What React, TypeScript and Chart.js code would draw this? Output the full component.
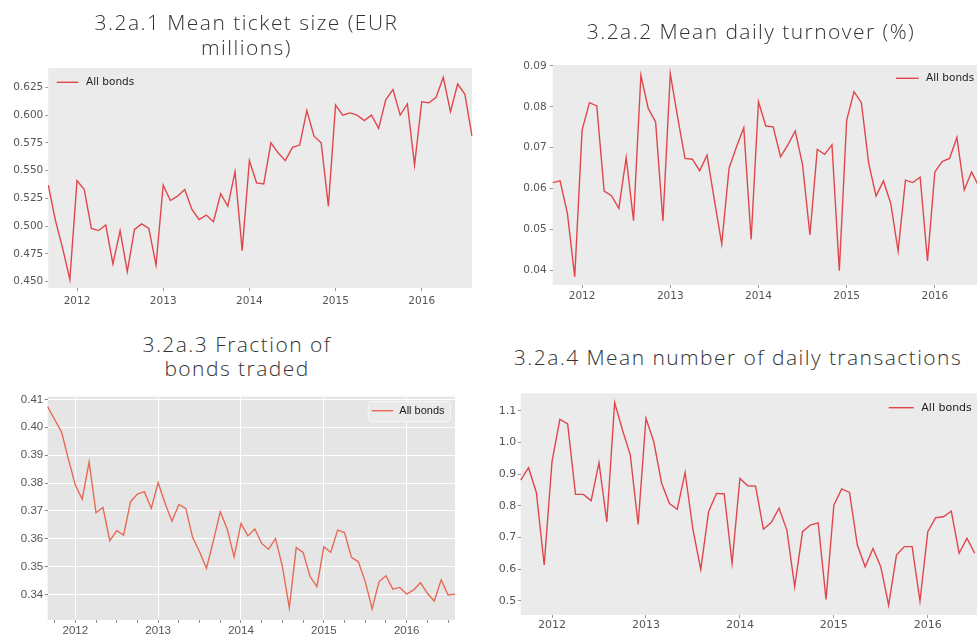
import React, { useEffect, useRef } from 'react';
import { Chart, registerables } from 'chart.js';

Chart.register(...registerables);

// ---------- categories ----------
const FIRST_YEAR = 2011;
const FIRST_MONTH = 9; // September 2011
const N_MONTHS = 60;   // Sep 2011 .. Aug 2016
const months: string[] = [];
for (let i = 0; i < N_MONTHS; i++) {
  const m = FIRST_MONTH - 1 + i;
  months.push(`${FIRST_YEAR + Math.floor(m / 12)}-${String((m % 12) + 1).padStart(2, '0')}`);
}

// ---------- series values ----------
const ticketSize: number[] = [
  0.537, 0.505, 0.480, 0.452, 0.541, 0.533, 0.498, 0.496, 0.501, 0.466,
  0.496, 0.459, 0.497, 0.502, 0.498, 0.465, 0.537, 0.523, 0.527, 0.533,
  0.515, 0.506, 0.510, 0.504, 0.529, 0.518, 0.549, 0.478, 0.559, 0.539,
  0.538, 0.575, 0.566, 0.559, 0.571, 0.573, 0.604, 0.581, 0.575, 0.518,
  0.609, 0.600, 0.602, 0.600, 0.595, 0.600, 0.588, 0.614, 0.623, 0.600,
  0.610, 0.555, 0.612, 0.611, 0.616, 0.634, 0.603, 0.628, 0.619, 0.581,
];

const dailyTurnover: number[] = [
  0.0615, 0.0619, 0.0540, 0.0385, 0.0743, 0.0810, 0.0802, 0.0594, 0.0583, 0.0552,
  0.0676, 0.0522, 0.0877, 0.0796, 0.0763, 0.0521, 0.0881, 0.0775, 0.0674, 0.0672,
  0.0644, 0.0682, 0.0572, 0.0465, 0.0650, 0.0702, 0.0749, 0.0476, 0.0812, 0.0753,
  0.0751, 0.0678, 0.0707, 0.0741, 0.0658, 0.0487, 0.0696, 0.0684, 0.0707, 0.0400,
  0.0767, 0.0837, 0.0810, 0.0662, 0.0582, 0.0619, 0.0564, 0.0448, 0.0621, 0.0615,
  0.0628, 0.0424, 0.0641, 0.0666, 0.0674, 0.0725, 0.0597, 0.0641, 0.0605,
];

const fractionTraded: number[] = [
  0.4074, 0.4028, 0.3984, 0.3886, 0.3793, 0.3742, 0.3876, 0.3693, 0.3712, 0.3593,
  0.3629, 0.3613, 0.3733, 0.3760, 0.3769, 0.3709, 0.3801, 0.3727, 0.3663, 0.3723,
  0.3709, 0.3604, 0.3553, 0.3494, 0.3592, 0.3697, 0.3635, 0.3535, 0.3655, 0.3610,
  0.3635, 0.3583, 0.3562, 0.3601, 0.3500, 0.3352, 0.3568, 0.3551, 0.3464, 0.3428,
  0.3571, 0.3551, 0.3631, 0.3622, 0.3533, 0.3517, 0.3446, 0.3348, 0.3446, 0.3467,
  0.3419, 0.3425, 0.3401, 0.3416, 0.3442, 0.3404, 0.3376, 0.3452, 0.3398, 0.3401,
];

const dailyTransactions: number[] = [
  0.881, 0.920, 0.842, 0.613, 0.939, 1.073, 1.058, 0.836, 0.836, 0.816,
  0.936, 0.749, 1.126, 1.039, 0.960, 0.741, 1.076, 1.002, 0.871, 0.807,
  0.789, 0.905, 0.725, 0.599, 0.781, 0.839, 0.837, 0.618, 0.886, 0.863,
  0.862, 0.726, 0.747, 0.792, 0.723, 0.544, 0.718, 0.739, 0.746, 0.504,
  0.802, 0.853, 0.842, 0.676, 0.607, 0.665, 0.607, 0.486, 0.644, 0.671,
  0.671, 0.499, 0.718, 0.762, 0.765, 0.783, 0.650, 0.697, 0.650,
];

// ---------- tick labels ----------
const ticksP1: number[] = [0.45, 0.475, 0.5, 0.525, 0.55, 0.575, 0.6, 0.625];
const ticksP2: number[] = [0.04, 0.05, 0.06, 0.07, 0.08, 0.09];
const ticksP3: number[] = [0.34, 0.35, 0.36, 0.37, 0.38, 0.39, 0.40, 0.41];
const ticksP4: number[] = [0.5, 0.6, 0.7, 0.8, 0.9, 1.0, 1.1];

const seriesName = 'All bonds';

type Legend = { x1: number; x2: number; tx: number; y: number; box?: [number, number, number, number]; font: string };
type Spec = {
  key: string;
  left: number; top: number; width: number; height: number;
  values: number[];
  yMin: number; yMax: number; yTicks: number[]; yDec: number;
  color: string; bg: string; grid: boolean;
  font: string; fontSize: number;
  yW: number; xH: number; padTop: number; padRight: number;
  yPad: number; xPad: number;
  legend: Legend;
};

const specs: Spec[] = [
  {
    key: 'p1', left: 0, top: 55, width: 480, height: 260,
    values: ticketSize, yMin: 0.4443, yMax: 0.6424, yTicks: ticksP1, yDec: 3,
    color: '#E0474C', bg: '#EBEBEB', grid: false, font: 'DejaVu Sans', fontSize: 10.5,
    yW: 48.3, xH: 27, padTop: 13, padRight: 8, yPad: 2, xPad: 3.5,
    legend: { x1: 56.7, x2: 78.3, tx: 86, y: 27.3, font: '10.5px "DejaVu Sans"' },
  },
  {
    key: 'p2', left: 505, top: 50, width: 500, height: 260,
    values: dailyTurnover, yMin: 0.0365, yMax: 0.0902, yTicks: ticksP2, yDec: 2,
    color: '#E0474C', bg: '#EBEBEB', grid: false, font: 'DejaVu Sans', fontSize: 10.5,
    yW: 47.7, xH: 25, padTop: 15, padRight: 18.7, yPad: 3, xPad: 2,
    legend: { x1: 391, x2: 413.7, tx: 421, y: 28.3, font: '10.5px "DejaVu Sans"' },
  },
  {
    key: 'p3', left: 0, top: 385, width: 465, height: 250,
    values: fractionTraded, yMin: 0.3308, yMax: 0.411, yTicks: ticksP3, yDec: 2,
    color: '#E66A55', bg: '#E5E5E5', grid: true, font: 'Liberation Sans', fontSize: 11.5,
    yW: 47.7, xH: 15, padTop: 11.7, padRight: 10, yPad: 1.5, xPad: 0.5,
    legend: { x1: 371.7, x2: 393.3, tx: 399.3, y: 25.7, box: [367.7, 16, 82.3, 20], font: '11px "Liberation Sans"' },
  },
  {
    key: 'p4', left: 488, top: 385, width: 510, height: 250,
    values: dailyTransactions, yMin: 0.455, yMax: 1.155, yTicks: ticksP4, yDec: 1,
    color: '#E0474C', bg: '#EBEBEB', grid: false, font: 'DejaVu Sans', fontSize: 11,
    yW: 32.7, xH: 20, padTop: 8.3, padRight: 15.4, yPad: 1.5, xPad: 1,
    legend: { x1: 400.7, x2: 425.7, tx: 433.3, y: 22.7, font: '11px "DejaVu Sans"' },
  },
];

const titles = [
  { key: 't1', lines: ['3.2a.1 Mean ticket size (EUR', 'millions)'], cx: 246.5, cy: 22, lh: 25 },
  { key: 't2', lines: ['3.2a.2 Mean daily turnover (%)'], cx: 751, cy: 31, lh: 25 },
  { key: 't3', lines: ['3.2a.3 Fraction of', 'bonds traded'], cx: 237, cy: 344, lh: 24 },
  { key: 't4', lines: ['3.2a.4 Mean number of daily transactions'], cx: 738, cy: 357, lh: 25 },
];

function Panel({ spec }: { spec: Spec }) {
  const ref = useRef<HTMLCanvasElement | null>(null);
  useEffect(() => {
    const canvas = ref.current;
    if (!canvas) return;
    const isMajor = (i: number) => months[i].endsWith('-01');
    const keepMonths = spec.grid ? ['01', '04', '07', '10'] : ['01'];

    const bgPlugin = {
      id: 'bg_' + spec.key,
      beforeDraw(chart: any) {
        const { ctx, chartArea } = chart;
        ctx.save();
        ctx.fillStyle = spec.bg;
        ctx.fillRect(chartArea.left, chartArea.top, chartArea.right - chartArea.left, chartArea.bottom - chartArea.top);
        ctx.restore();
      },
      afterDraw(chart: any) {
        const { ctx } = chart;
        const lg = spec.legend;
        ctx.save();
        if (lg.box) {
          const [bx, by, bw, bh] = lg.box;
          ctx.fillStyle = '#EAEAEA';
          ctx.strokeStyle = '#F6F6F6';
          ctx.lineWidth = 1;
          ctx.beginPath();
          (ctx as any).roundRect(bx + 0.5, by + 0.5, bw, bh, 3);
          ctx.fill();
          ctx.stroke();
        }
        ctx.strokeStyle = spec.color;
        ctx.lineWidth = 1.4;
        ctx.beginPath();
        ctx.moveTo(lg.x1, lg.y);
        ctx.lineTo(lg.x2, lg.y);
        ctx.stroke();
        ctx.fillStyle = '#222';
        ctx.font = lg.font;
        ctx.textBaseline = 'middle';
        ctx.textAlign = 'left';
        ctx.fillText(seriesName, lg.tx, lg.y);
        ctx.restore();
      },
    };

    const chart = new Chart(canvas, {
      type: 'line',
      data: {
        labels: months,
        datasets: [
          {
            label: seriesName,
            data: spec.values,
            borderColor: spec.color,
            borderWidth: 1.4,
            pointRadius: 0,
            tension: 0,
            fill: false,
          },
        ],
      },
      options: {
        animation: false,
        responsive: false,
        devicePixelRatio: 1,
        layout: { padding: { left: 0, top: spec.padTop, right: spec.padRight, bottom: 0 } },
        plugins: { legend: { display: false }, tooltip: { enabled: false }, title: { display: false } },
        scales: {
          x: {
            type: 'category',
            offset: false,
            border: { display: false },
            grid: spec.grid
              ? {
                  display: true,
                  drawOnChartArea: true,
                  color: (c: any) => (c.tick && isMajor(c.tick.value) ? '#FFFFFF' : 'rgba(0,0,0,0)'),
                  lineWidth: 1,
                  drawTicks: true,
                  tickLength: 3,
                  tickColor: '#8A8A8A',
                }
              : { display: true, drawOnChartArea: false, drawTicks: true, tickLength: 3, tickColor: '#9A9A9A' },
            afterBuildTicks: (axis: any) => {
              axis.ticks = months
                .map((m, i) => ({ value: i, m }))
                .filter((t) => keepMonths.includes(t.m.slice(5)))
                .map((t) => ({ value: t.value }));
            },
            afterFit: (axis: any) => {
              axis.height = spec.xH;
            },
            ticks: {
              autoSkip: false,
              maxRotation: 0,
              minRotation: 0,
              padding: spec.xPad,
              color: '#555',
              font: { family: spec.font, size: spec.fontSize },
              callback: (value: any) => {
                const m = months[Number(value)];
                return m && m.endsWith('-01') ? m.slice(0, 4) : '';
              },
            },
          },
          y: {
            type: 'linear',
            min: spec.yMin,
            max: spec.yMax,
            border: { display: false },
            grid: spec.grid
              ? { display: true, drawOnChartArea: true, color: '#FFFFFF', lineWidth: 1, drawTicks: true, tickLength: 3, tickColor: '#8A8A8A' }
              : { display: true, drawOnChartArea: false, drawTicks: true, tickLength: 3, tickColor: '#9A9A9A' },
            afterBuildTicks: (axis: any) => {
              axis.ticks = spec.yTicks.map((v) => ({ value: v }));
            },
            afterFit: (axis: any) => {
              axis.width = spec.yW;
            },
            ticks: {
              padding: spec.yPad,
              color: '#555',
              font: { family: spec.font, size: spec.fontSize },
              callback: (value: any) => Number(value).toFixed(spec.yDec),
            },
          },
        },
      },
      plugins: [bgPlugin],
    } as any);
    return () => chart.destroy();
  }, [spec]);

  return (
    <canvas
      ref={ref}
      width={spec.width}
      height={spec.height}
      style={{ position: 'absolute', left: spec.left, top: spec.top, width: spec.width, height: spec.height }}
    />
  );
}

export default function App() {
  return (
    <div
      style={{
        position: 'absolute',
        left: 0,
        top: 0,
        width: 977,
        height: 635,
        overflow: 'hidden',
        background: '#FFFFFF',
      }}
    >
      {specs.map((s) => (
        <Panel key={s.key} spec={s} />
      ))}
      {titles.map((t) => (
        <div
          key={t.key}
          style={{
            position: 'absolute',
            left: t.cx - 300,
            width: 600,
            top: t.cy - t.lh / 2,
            textAlign: 'center',
            fontFamily: '"Open Sans", sans-serif',
            fontWeight: 300,
            fontSize: 21,
            lineHeight: `${t.lh}px`,
            letterSpacing: '1.45px',
            color: '#333',
            whiteSpace: 'nowrap',
          }}
        >
          {t.lines.map((l, i) => (
            <div key={i}>{l}</div>
          ))}
        </div>
      ))}
    </div>
  );
}
